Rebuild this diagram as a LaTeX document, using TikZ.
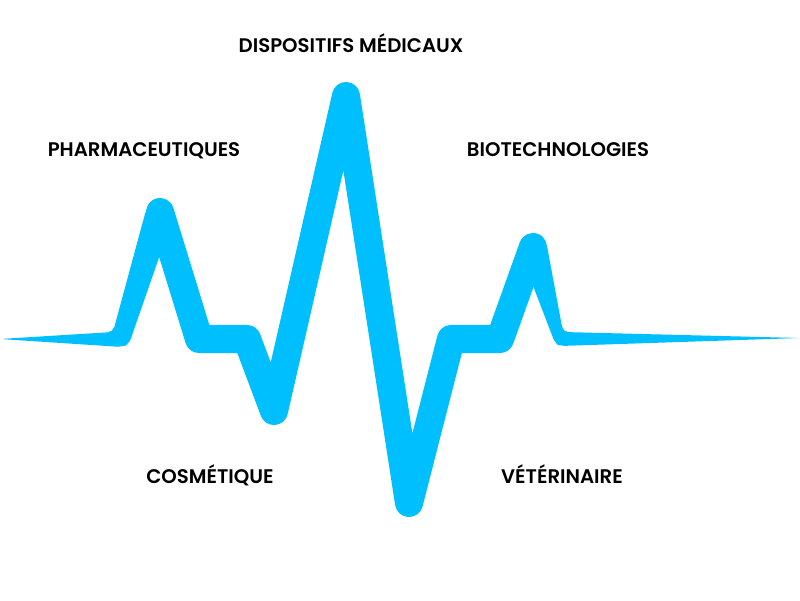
\documentclass[tikz,border=0pt]{standalone}
\usepackage{fontspec}
\setmainfont{Poppins}[BoldFont={Poppins SemiBold}]
\begin{document}
\begin{tikzpicture}[x=0.01cm,y=-0.01cm]
\definecolor{ecg}{RGB}{0,191,255}
\tikzset{
  lbl/.style={font=\bfseries\fontsize{5.6}{7}\selectfont, anchor=base, text=black, inner sep=0pt},
  wave/.style={draw=ecg, line width=0.28cm, line join=round, line cap=round},
  tail/.style={fill=ecg, rounded corners=1.5pt}
}
\useasboundingbox (0,0) rectangle (800,600);
% centre line of the wave
\coordinate (p1) at (160,212);
\coordinate (c2) at (199,339);
\coordinate (c3) at (247,339);
\coordinate (v1) at (274,411);
\coordinate (p2) at (346,96);
\coordinate (v2) at (409,503);
\coordinate (c6) at (451,339);
\coordinate (c7) at (500,339);
\coordinate (p3) at (533,247);
% tapered ends
\fill[tail] (0,339) -- (113,332) -- (146.6,207.9) -- (173.4,216.1) -- (129,344) -- (122,347) -- cycle;
\fill[tail] (519.5,250.7) -- (546.5,243.3) -- (563,332) -- (800,338) -- (560,346) -- (555,343) -- cycle;
\draw[wave] (p1) -- (c2) -- (c3) -- (v1) -- (p2) -- (v2) -- (c6) -- (c7) -- (p3);
% labels
\node[lbl] (dm) at (351,52) {DISPOSITIFS MÉDICAUX};
\node[lbl] (ph) at (144,156) {PHARMACEUTIQUES};
\node[lbl] (bt) at (558,156) {BIOTECHNOLOGIES};
\node[lbl] (co) at (210,483) {COSMÉTIQUE};
\node[lbl] (ve) at (562,483) {VÉTÉRINAIRE};
\end{tikzpicture}
\end{document}
